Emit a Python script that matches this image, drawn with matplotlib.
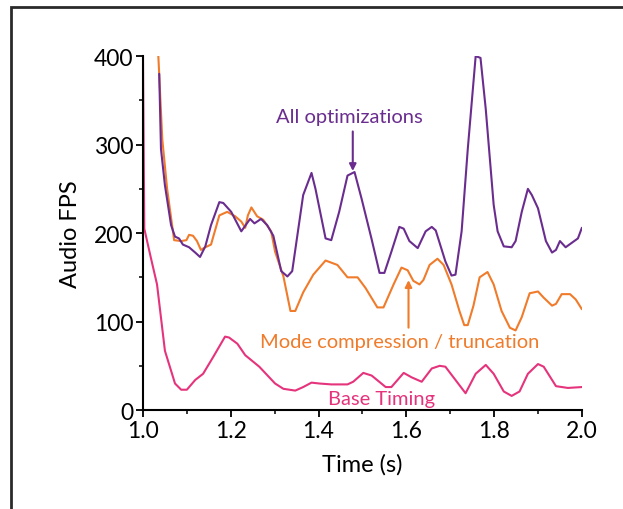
import matplotlib
matplotlib.use("Agg")
import matplotlib.pyplot as plt
from matplotlib.patches import Rectangle
from matplotlib.ticker import MultipleLocator

plt.rcParams['font.family'] = ['Lato', 'DejaVu Sans']

# Base timing
t_base = [1.000, 1.003, 1.018, 1.032, 1.050, 1.073, 1.087, 1.100, 1.119, 1.137,
          1.160, 1.187, 1.196, 1.215, 1.233, 1.265, 1.301, 1.320, 1.347, 1.365,
          1.384, 1.402, 1.429, 1.466, 1.479, 1.502, 1.521, 1.553, 1.566, 1.594,
          1.612, 1.635, 1.658, 1.676, 1.689, 1.712, 1.735, 1.758, 1.781, 1.799,
          1.822, 1.840, 1.858, 1.877, 1.900, 1.913, 1.941, 1.968, 2.000]
fps_base = [400, 205, 172, 142, 67, 30, 23, 23, 34, 41,
            60, 83, 82, 75, 62, 49, 30, 24, 22, 26,
            31, 30, 29, 29, 32, 42, 39, 26, 26, 42,
            37, 32, 47, 50, 49, 34, 19, 41, 51, 41,
            21, 16, 21, 41, 52, 49, 27, 25, 26]

# Mode compression / truncation
t_mode = [1.035, 1.044, 1.055, 1.071, 1.087, 1.099, 1.105, 1.114, 1.123, 1.132,
          1.142, 1.155, 1.174, 1.192, 1.210, 1.224, 1.233, 1.239, 1.247, 1.260,
          1.274, 1.292, 1.301, 1.320, 1.336, 1.347, 1.365, 1.388, 1.416, 1.443,
          1.466, 1.479, 1.489, 1.507, 1.534, 1.548, 1.571, 1.589, 1.603, 1.616,
          1.630, 1.639, 1.653, 1.671, 1.685, 1.703, 1.721, 1.732, 1.740, 1.753,
          1.767, 1.785, 1.799, 1.817, 1.836, 1.849, 1.863, 1.881, 1.900, 1.913,
          1.932, 1.941, 1.954, 1.973, 1.986, 2.000]
fps_mode = [400, 306, 250, 192, 191, 192, 198, 197, 191, 181,
            184, 187, 220, 224, 219, 213, 206, 220, 229, 219,
            215, 202, 179, 151, 112, 112, 133, 153, 169, 164,
            150, 150, 150, 138, 116, 116, 142, 161, 158, 146,
            142, 147, 164, 171, 164, 142, 112, 96, 96, 118,
            150, 156, 142, 112, 93, 90, 105, 132, 134, 127,
            118, 120, 131, 131, 125, 114]

# All optimizations
t_all = [1.037, 1.041, 1.050, 1.064, 1.073, 1.082, 1.091, 1.105, 1.119, 1.130,
         1.142, 1.155, 1.174, 1.183, 1.201, 1.224, 1.244, 1.254, 1.269, 1.283,
         1.297, 1.315, 1.329, 1.340, 1.365, 1.384, 1.393, 1.416, 1.429, 1.447,
         1.466, 1.482, 1.498, 1.521, 1.539, 1.550, 1.566, 1.584, 1.594, 1.607,
         1.626, 1.644, 1.658, 1.667, 1.689, 1.703, 1.712, 1.726, 1.740, 1.758,
         1.769, 1.781, 1.799, 1.808, 1.822, 1.840, 1.849, 1.863, 1.877, 1.886,
         1.900, 1.918, 1.932, 1.941, 1.950, 1.963, 1.977, 1.991, 2.000]
fps_all = [380, 295, 254, 209, 196, 194, 187, 184, 178, 173,
           185, 209, 235, 234, 224, 202, 216, 211, 216, 209,
           197, 157, 151, 157, 243, 268, 250, 194, 192, 224,
           265, 269, 239, 193, 155, 155, 179, 207, 205, 191,
           183, 202, 207, 203, 168, 152, 153, 202, 295, 400,
           398, 340, 232, 202, 185, 184, 191, 224, 250, 243,
           228, 191, 178, 181, 191, 184, 189, 194, 206]

PURPLE = '#6a2d8f'
ORANGE = '#f07b2a'
PINK = '#e5337c'

fig = plt.figure(figsize=(6.23, 5.10), dpi=100)
fig.patches.append(Rectangle((11 / 623, -0.1), 1.2, 1.1 - 8 / 510, transform=fig.transFigure,
                             fill=False, edgecolor='#2a2a2a', linewidth=2.0))
ax = fig.add_axes([0.2295, 0.194, 0.7045, 0.694])

line_kw = dict(lw=1.5, solid_joinstyle='round', solid_capstyle='round')
ax.plot(t_base, fps_base, color=PINK, **line_kw)
ax.plot(t_mode, fps_mode, color=ORANGE, **line_kw)
ax.plot(t_all, fps_all, color=PURPLE, **line_kw)

ax.set_xlim(1.0, 2.0)
ax.set_ylim(0, 400)
ax.xaxis.set_major_locator(MultipleLocator(0.2))
ax.xaxis.set_minor_locator(MultipleLocator(0.1))
ax.yaxis.set_major_locator(MultipleLocator(100))
ax.yaxis.set_minor_locator(MultipleLocator(50))
ax.set_xticklabels([f'{v:.1f}' for v in ax.get_xticks()])
for s in ('top', 'right'):
    ax.spines[s].set_visible(False)
for s in ('left', 'bottom'):
    ax.spines[s].set_linewidth(1.5)
ax.tick_params(which='major', direction='out', length=5, width=1.3, labelsize=16.5, pad=2)
ax.tick_params(which='minor', direction='out', length=3, width=1.1)
ax.set_xlabel('Time (s)', fontsize=17, labelpad=9)
ax.set_ylabel('Audio FPS', fontsize=17, labelpad=9)

ax.text(1.47, 332, 'All optimizations', color=PURPLE, fontsize=14.5, ha='center', va='center')
ax.annotate('', xy=(1.478, 267), xytext=(1.478, 318),
            arrowprops=dict(arrowstyle='-|>', color=PURPLE, lw=1.5, mutation_scale=10))
ax.text(1.584, 78, 'Mode compression / truncation', color=ORANGE, fontsize=14.5,
        ha='center', va='center')
ax.annotate('', xy=(1.605, 150), xytext=(1.605, 90),
            arrowprops=dict(arrowstyle='-|>', color=ORANGE, lw=1.5, mutation_scale=10))
ax.text(1.543, 13, 'Base Timing', color=PINK, fontsize=14.5, ha='center', va='center',
        clip_on=False)

fig.savefig('out.png', dpi=100)
